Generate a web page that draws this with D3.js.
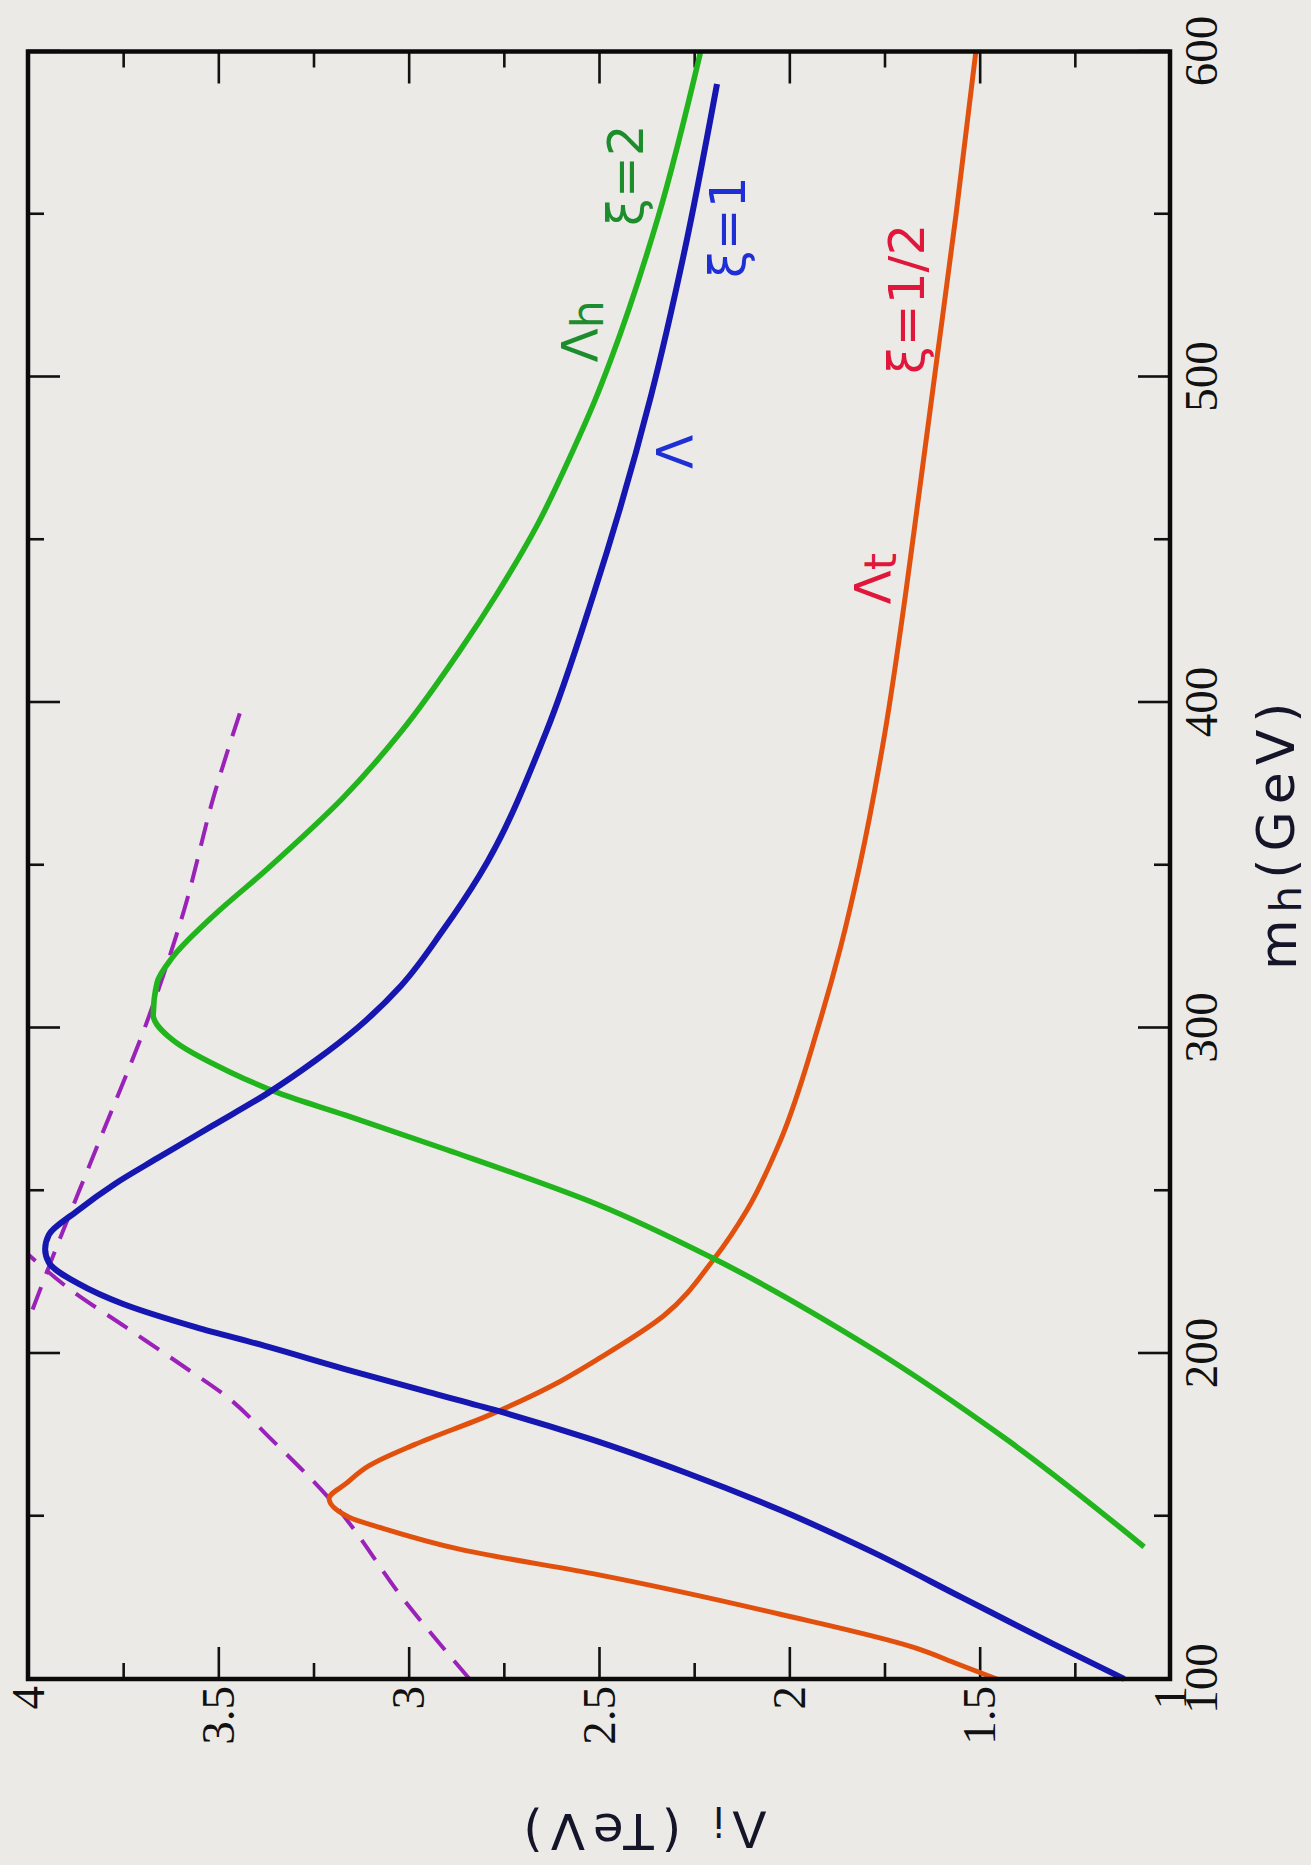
<!DOCTYPE html>
<html>
<head>
<meta charset="utf-8">
<script src="https://cdn.jsdelivr.net/npm/d3@7"></script>
<style>
  html, body { margin: 0; padding: 0; background: #ebeae6; }
  svg { display: block; }
</style>
</head>
<body>
<svg id="chart" width="1311" height="1865"></svg>
<script>
// Lambda_i (TeV) against m_h (GeV) -- the figure is printed turned a quarter turn

// axis ticks
var mhTicks = [100, 200, 300, 400, 500, 600];
var mhMinor = [150, 250, 350, 450, 550];
var tevTicks = [1, 1.5, 2, 2.5, 3, 3.5, 4];
var tevMinor = [1.25, 1.75, 2.25, 2.75, 3.25, 3.75];

// Lambda, xi = 1 (blue)
var lamM = [100, 110.8, 125, 139.2, 151.9, 163.3, 174, 182.5, 188.2, 195.3, 202.4, 208.1, 215.2, 221.6, 227.9,
            232, 236.5, 243.6, 252.1, 260, 270, 280, 290, 300, 313, 330, 346.7, 390.6, 433, 493.9, 537.8, 590];
var lamV = [1.12, 1.307, 1.546, 1.785, 2.024, 2.27, 2.53, 2.77, 2.95, 3.17, 3.38, 3.56, 3.75, 3.87, 3.945,
            3.955, 3.945, 3.873, 3.772, 3.66, 3.515, 3.37, 3.245, 3.135, 3.02, 2.91, 2.815, 2.64, 2.515, 2.364, 2.277, 2.19];

// Lambda_t, xi = 1/2 (red)
var lamtM = [100, 104.6, 109.4, 119.9, 132, 139.9, 146.3, 149.8, 155.5, 160, 165.5, 172, 181, 190, 198.5, 211.6,
             228.7, 244.3, 265, 300, 325, 350, 390, 433, 460, 505, 550, 600];
var lamtV = [1.455, 1.558, 1.665, 2.024, 2.50, 2.867, 3.068, 3.158, 3.209, 3.165, 3.105, 2.985, 2.79, 2.625, 2.50, 2.33,
             2.20, 2.11, 2.025, 1.925, 1.865, 1.815, 1.75, 1.695, 1.664, 1.613, 1.562, 1.51];

// Lambda_h, xi = 2 (green)
var lamhM = [140.6, 173.4, 201.7, 229.4, 245.7, 262.6, 273.3, 279.9, 286.5, 296.4, 304, 313.9, 321.6, 333.7, 349,
             371, 391, 416, 433, 455, 477, 493, 505, 549, 600];
var lamhV = [1.068, 1.427, 1.785, 2.203, 2.502, 2.90, 3.168, 3.339, 3.47, 3.621, 3.671, 3.661, 3.621, 3.52, 3.37,
             3.17, 3.02, 2.865, 2.77, 2.66, 2.57, 2.51, 2.47, 2.345, 2.233];

// dashed envelopes through the peaks
var dashAM = [100, 123.5, 155.5, 174.7, 186, 196, 208, 220, 230.5];
var dashAV = [2.84, 3.007, 3.209, 3.37, 3.47, 3.591, 3.742, 3.893, 4.0];
var dashBM = [213.5, 230, 262.6, 304, 335.8, 372, 398];
var dashBV = [3.988, 3.934, 3.822, 3.681, 3.591, 3.51, 3.44];

// hand written labels: text, m_h, Lambda
var noteText = ["Λh", "ξ=2", "ξ=1", "Λ", "ξ=1/2", "Λt"];
var noteM = [514, 562, 546, 477, 524, 438];
var noteV = [2.55, 2.43, 2.16, 2.30, 1.69, 1.78];
var noteColor = ["#1c8c2c", "#1c8c2c", "#1f2fd6", "#1f2fd6", "#e0163a", "#e0163a"];

var frameLeft = 28, frameRight = 1170, frameTop = 51.5, frameBottom = 1679;
var W = frameBottom - frameTop, H = frameRight - frameLeft;

var x = d3.scaleLinear().domain([100, 600]).range([0, W]);
var y = d3.scaleLinear().domain([1, 4]).range([H, 0]);

var svg = d3.select("#chart");
// draw the chart upright, then turn it so m_h runs up the right side
var g = svg.append("g")
  .attr("transform", "translate(" + frameLeft + "," + frameBottom + ") rotate(-90)");

var zip = function (ms, vs) {
  return ms.map(function (m, i) { return { m: m, v: vs[i] }; });
};

var line = d3.line()
  .x(function (d) { return x(d.m); })
  .y(function (d) { return y(d.v); })
  .curve(d3.curveMonotoneX);

var serif = "Liberation Serif, Times New Roman, serif";
var hand = "DejaVu Sans, Noto Sans, sans-serif";

///////////////////////////////////////////////////////////////////////////////
// Axes: inward ticks on all four sides

var fixAxis = function (sel) {
  sel.select(".domain").remove();
  sel.selectAll(".tick line").attr("stroke", "#111").attr("stroke-width", 2.6);
  sel.attr("font-family", serif).attr("font-size", 47);
  sel.selectAll("text").style("font-family", serif).attr("fill", "#111");
};

g.append("g").attr("transform", "translate(0," + H + ")")
  .call(d3.axisBottom(x).tickValues(mhTicks).tickSize(-32).tickPadding(14).tickFormat(d3.format("d")))
  .call(fixAxis);
g.append("g").attr("transform", "translate(0," + H + ")")
  .call(d3.axisBottom(x).tickValues(mhMinor).tickSize(-16).tickFormat(""))
  .call(fixAxis);
g.append("g")
  .call(d3.axisTop(x).tickValues(mhTicks).tickSize(-32).tickFormat(""))
  .call(fixAxis);
g.append("g")
  .call(d3.axisTop(x).tickValues(mhMinor).tickSize(-16).tickFormat(""))
  .call(fixAxis);

g.append("g")
  .call(d3.axisLeft(y).tickValues(tevTicks).tickSize(-32).tickPadding(7).tickFormat(function (d) { return d; }))
  .call(fixAxis);
g.append("g")
  .call(d3.axisLeft(y).tickValues(tevMinor).tickSize(-16).tickFormat(""))
  .call(fixAxis);
g.append("g").attr("transform", "translate(" + W + ",0)")
  .call(d3.axisRight(y).tickValues(tevTicks).tickSize(-32).tickFormat(""))
  .call(fixAxis);
g.append("g").attr("transform", "translate(" + W + ",0)")
  .call(d3.axisRight(y).tickValues(tevMinor).tickSize(-16).tickFormat(""))
  .call(fixAxis);

///////////////////////////////////////////////////////////////////////////////
// Curves

g.append("path").datum(zip(dashAM, dashAV))
  .attr("d", line).attr("fill", "none")
  .attr("stroke", "#9a22b8").attr("stroke-width", 4).attr("stroke-dasharray", "24,14");
g.append("path").datum(zip(dashBM, dashBV))
  .attr("d", line).attr("fill", "none")
  .attr("stroke", "#9a22b8").attr("stroke-width", 4).attr("stroke-dasharray", "24,14");

g.append("path").datum(zip(lamtM, lamtV))
  .attr("d", line).attr("fill", "none")
  .attr("stroke", "#e2500e").attr("stroke-width", 5).attr("stroke-linejoin", "round");
g.append("path").datum(zip(lamhM, lamhV))
  .attr("d", line).attr("fill", "none")
  .attr("stroke", "#22b41c").attr("stroke-width", 5.5).attr("stroke-linejoin", "round");
g.append("path").datum(zip(lamM, lamV))
  .attr("d", line).attr("fill", "none")
  .attr("stroke", "#1616b0").attr("stroke-width", 6).attr("stroke-linejoin", "round");

// frame
g.append("rect").attr("x", 0).attr("y", 0).attr("width", W).attr("height", H)
  .attr("fill", "none").attr("stroke", "#0a0a0a").attr("stroke-width", 4.5);

///////////////////////////////////////////////////////////////////////////////
// Labels

noteText.forEach(function (t, i) {
  var txt = g.append("text")
    .attr("x", x(noteM[i])).attr("y", y(noteV[i]))
    .attr("text-anchor", "middle").attr("dominant-baseline", "central")
    .attr("font-family", hand).attr("font-size", 50)
    .attr("fill", noteColor[i]);
  if (t.charAt(0) === "Λ" && t.length > 1) {
    txt.append("tspan").text("Λ");
    txt.append("tspan").attr("dy", "0.15em").attr("font-size", 44).text(t.slice(1));
  } else {
    txt.text(t);
  }
});

// m_h (GeV) along the right side
var mt = g.append("text")
  .attr("x", x(360)).attr("y", H + 108)
  .attr("text-anchor", "middle").attr("dominant-baseline", "central")
  .attr("font-family", hand).attr("font-size", 52).attr("letter-spacing", 7)
  .attr("fill", "#15152a");
mt.append("tspan").text("m");
mt.append("tspan").attr("dy", "0.2em").attr("font-size", 42).text("h");
mt.append("tspan").attr("dy", "-0.2em").text("(GeV)");

// Lambda_i (TeV) along the bottom, upside down
var lt = g.append("text")
  .attr("transform", "translate(-150," + y(2.39) + ") rotate(-90)")
  .attr("text-anchor", "middle").attr("dominant-baseline", "central")
  .attr("font-family", hand).attr("font-size", 50).attr("letter-spacing", 8)
  .attr("fill", "#15152a");
lt.append("tspan").text("Λ");
lt.append("tspan").attr("dy", "0.2em").attr("font-size", 40).text("i");
lt.append("tspan").attr("dy", "-0.2em").text(" (TeV)");
</script>
</body>
</html>
